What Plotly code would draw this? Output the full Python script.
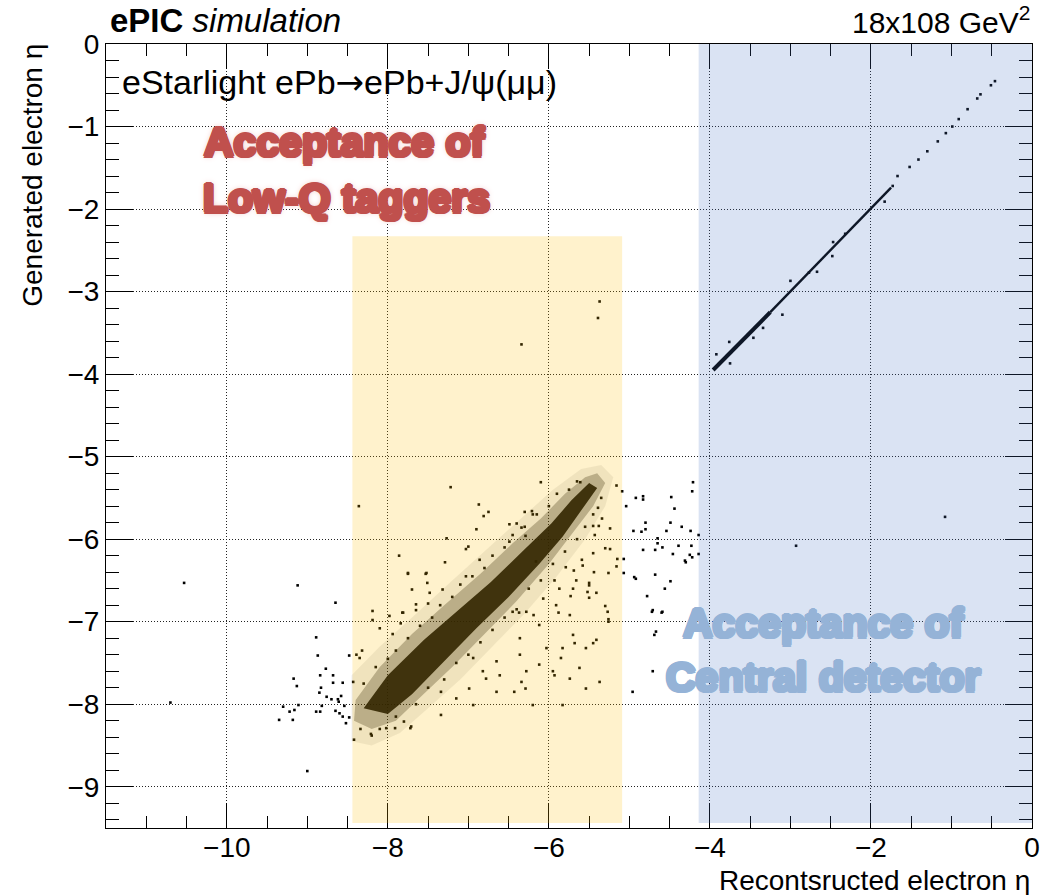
import plotly.graph_objects as go

# ---------------- data ----------------
x_range = [-11.5, 0.0]
y_range = [-9.5, 0.0]
x_tickvals = [-10, -8, -6, -4, -2, 0]
x_ticktext = ["\u221210", "\u22128", "\u22126", "\u22124", "\u22122", "0"]
y_tickvals = [-9, -8, -7, -6, -5, -4, -3, -2, -1, 0]
y_ticktext = ["\u22129", "\u22128", "\u22127", "\u22126", "\u22125", "\u22124", "\u22123", "\u22122", "\u22121", "0"]

# acceptance regions (data coordinates: x0, x1, y0, y1)
lowq_region = [-8.44, -5.09, -9.44, -2.33]
central_region = [-4.14, 0.0, -9.44, 0.0]

# dense band of far-backward electrons (density contours)
band_halo_x = [-8.45, -8.45, -8.1, -7.7, -7.2, -6.75, -6.35, -5.95, -5.6, -5.35,
               -5.2, -5.3, -5.55, -5.9, -6.3, -6.7, -7.1, -7.5, -7.85, -8.2]
band_halo_y = [-8.45, -7.65, -7.3, -6.95, -6.5, -6.1, -5.75, -5.4, -5.15, -5.1,
               -5.25, -5.6, -6.0, -6.45, -6.9, -7.3, -7.7, -8.05, -8.35, -8.5]
band_mid_x = [-8.42, -8.4, -8.1, -7.7, -7.3, -6.85, -6.45, -6.1, -5.8, -5.55, -5.4,
              -5.3, -5.45, -5.7, -6.0, -6.4, -6.8, -7.2, -7.6, -7.9, -8.2]
band_mid_y = [-8.2, -7.95, -7.55, -7.15, -6.8, -6.42, -6.05, -5.75, -5.45, -5.25, -5.2,
              -5.32, -5.6, -5.92, -6.3, -6.75, -7.15, -7.55, -7.92, -8.2, -8.3]
band_core_x = [-8.3, -8.0, -7.55, -7.15, -6.72, -6.32, -5.97, -5.72, -5.5,
               -5.4, -5.6, -5.83, -6.12, -6.5, -6.9, -7.3, -7.7, -8.0]
band_core_y = [-8.05, -7.65, -7.22, -6.88, -6.52, -6.14, -5.81, -5.53, -5.32,
               -5.38, -5.66, -5.97, -6.3, -6.7, -7.08, -7.48, -7.88, -8.12]

# individual scattered events
scatter_x = [
    -9.12, -8.65, -8.89, -8.87, -8.48, -8.77, -9.17, -8.84, -8.68, -9.13, -8.83, -8.68, -8.85, -8.56,
    -8.76, -8.70, -8.62, -8.58, -8.61, -9.30, -9.11, -8.82, -8.54, -9.22, -9.16, -8.89, -8.84, -8.65,
    -8.60, -8.56, -9.35, -9.18, -8.52, -8.48, -9.00, -10.53, -10.70,
    -8.42, -8.34, -8.20, -8.02, -7.91, -7.72, -7.80, -8.32, -8.39, -8.19, -8.10, -7.75, -7.53, -7.51,
    -7.70, -7.82, -7.65, -7.48, -8.36, -7.22, -6.87, -6.81, -6.75, -6.90, -6.30, -6.49, -6.40, -6.34,
    -7.27, -7.00, -7.03, -7.86, -7.29, -6.86, -7.75, -7.52, -7.03, -7.32, -7.65, -7.50, -8.19, -7.81,
    -7.98, -7.94, -7.84, -6.10, -5.61, -6.21, -6.20, -6.29, -6.49, -8.35, -8.43,
    -5.34, -5.45, -5.38, -5.24, -5.39, -5.43, -5.30, -5.24, -5.45, -5.15, -5.16, -5.26, -5.44, -5.59,
    -5.58, -5.79, -5.69, -5.93, -5.66, -5.50, -5.50, -5.41, -5.73, -5.50, -5.30, -5.88, -6.19, -5.26,
    -6.37, -6.16, -5.87, -5.70, -5.52, -5.27, -5.26, -5.41, -5.45, -5.54, -5.68, -5.83, -5.85, -5.62,
    -5.74, -5.54, -5.37, -5.95, -6.12, -6.28, -6.34, -6.43, -6.61, -6.65, -6.82, -6.78, -6.99, -7.15,
    -6.94, -7.34, -7.34, -7.71, -8.21, -6.20, -5.83, -5.93, -6.29, -6.36, -6.12, -6.28, -6.45, -6.07,
    -5.91, -5.74, -5.70, -6.03, -6.36, -6.65, -6.94,
    -5.09, -5.04, -4.92, -4.83, -4.83, -4.48, -4.44, -4.21, -4.22, -4.80, -4.49, -4.35, -4.95, -4.85,
    -4.80, -4.54, -4.24, -4.65, -4.65, -4.59, -4.68, -4.83, -4.39, -4.23, -4.25, -4.22, -4.46, -4.31,
    -4.30, -5.07, -5.07, -4.94, -4.92, -4.68, -4.49, -4.56, -4.78, -4.72, -4.60, -5.16, -4.96, -4.71,
    -4.69, -4.59, -4.71, -4.67, -4.14, -4.14,
    -5.37, -5.39, -6.34, -1.08, -2.93,
    -8.30, -8.15, -8.00, -7.90, -7.75, -7.60, -7.45, -7.35, -7.20, -7.10, -6.95, -6.80, -6.70, -6.55,
    -6.45, -6.30, -6.15, -6.00, -5.90, -5.75, -5.65,
    -8.10, -7.90, -7.65, -7.50, -7.30, -7.15, -7.00, -6.85, -6.70, -6.55, -6.40, -6.25, -6.10, -5.95,
    -5.80, -5.65, -5.55, -5.45, -5.35,
]
scatter_y = [
    -6.56, -6.77, -7.19, -7.41, -7.41, -7.57, -7.69, -7.65, -7.65, -7.78, -7.80, -7.74, -7.86, -7.74,
    -7.91, -7.94, -7.94, -7.90, -7.97, -8.03, -8.01, -8.02, -8.02, -8.09, -8.07, -8.09, -8.09, -8.08,
    -8.11, -8.15, -8.19, -8.19, -8.23, -8.16, -8.81, -6.53, -7.98,
    -8.43, -8.30, -8.38, -8.29, -8.29, -8.29, -8.21, -7.35, -7.40, -6.98, -7.08, -6.42, -6.42, -6.53,
    -6.61, -6.89, -6.86, -6.65, -5.60, -5.37, -5.58, -5.72, -5.67, -5.88, -5.67, -5.82, -5.81, -5.86,
    -5.99, -6.09, -6.12, -6.20, -6.28, -6.25, -6.41, -6.41, -6.45, -6.61, -6.79, -6.78, -6.87, -6.89,
    -6.93, -7.15, -7.02, -5.31, -5.31, -5.66, -5.70, -5.96, -6.03, -7.44, -7.73,
    -5.75, -5.84, -5.84, -5.87, -5.62, -5.95, -6.11, -6.12, -6.17, -6.24, -6.33, -6.41, -6.40, -6.25,
    -6.32, -6.34, -6.38, -6.50, -6.50, -6.53, -6.56, -6.65, -6.69, -6.71, -6.81, -6.89, -6.92, -6.97,
    -6.89, -6.27, -6.60, -6.60, -6.64, -6.88, -7.00, -7.22, -7.26, -7.32, -7.26, -7.32, -7.44, -7.56,
    -7.69, -7.81, -7.73, -7.60, -7.52, -7.60, -7.73, -7.85, -7.65, -7.85, -7.60, -7.69, -7.81, -7.93,
    -8.01, -7.85, -8.13, -8.27, -8.36, -8.01, -8.01, -7.65, -7.81, -7.20, -7.04, -6.88, -6.88, -6.72,
    -6.80, -6.92, -7.16, -7.32, -7.40, -7.48, -7.44,
    -5.42, -5.60, -5.50, -5.48, -5.52, -5.49, -5.63, -5.31, -5.42, -5.80, -5.80, -5.85, -5.90, -5.91,
    -5.88, -5.90, -5.90, -5.99, -6.05, -6.10, -6.13, -6.13, -6.08, -6.08, -6.19, -6.22, -6.18, -6.26,
    -6.28, -6.24, -6.41, -6.46, -6.48, -6.43, -6.51, -6.60, -6.69, -6.88, -6.89, -5.35, -7.85, -7.60,
    -7.16, -6.88, -6.86, -7.12, -5.95, -6.18,
    -3.12, -3.32, -3.64, -5.73, -6.08,
    -7.75, -7.55, -7.45, -7.35, -7.20, -7.05, -6.95, -6.80, -6.70, -6.55, -6.45, -6.35, -6.20, -6.10,
    -5.95, -5.85, -5.70, -5.60, -5.45, -5.40, -5.30,
    -8.30, -8.15, -8.00, -7.80, -7.70, -7.50, -7.40, -7.25, -7.10, -6.95, -6.85, -6.60, -6.50, -6.30,
    -6.15, -6.00, -5.85, -5.70, -5.50,
]

# central-detector electrons: reconstructed == generated (dense diagonal)
diag_thick_x = [-3.96, -3.25]
diag_thick_y = [-3.95, -3.25]
diag_thin_x = [-3.25, -2.0, -1.75]
diag_thin_y = [-3.25, -1.99, -1.74]
diag_dots_x = [-3.92, -3.75, -3.76, -3.46, -3.34, -3.10, -3.00, -2.77, -2.67, -2.48, -2.47, -2.32, -1.83,
               -1.73, -1.67, -1.52, -1.41, -1.30, -1.17, -1.07, -0.99, -0.91, -0.80, -0.68, -0.64, -0.51, -0.46]
diag_dots_y = [-3.76, -3.87, -3.61, -3.56, -3.44, -3.28, -2.87, -2.77, -2.76, -2.57, -2.40, -2.30, -1.91,
               -1.72, -1.60, -1.49, -1.40, -1.30, -1.18, -1.08, -1.00, -0.91, -0.79, -0.66, -0.61, -0.50, -0.45]

# ---------------- figure ----------------
fig = go.Figure()

for px_, py_, alpha in [(band_halo_x, band_halo_y, 0.07),
                        (band_mid_x, band_mid_y, 0.28),
                        (band_core_x, band_core_y, 0.9)]:
    fig.add_trace(go.Scatter(x=px_, y=py_, mode="lines", fill="toself",
                             fillcolor=f"rgba(0,0,0,{alpha})", line=dict(width=0),
                             hoverinfo="skip", showlegend=False))

fig.add_trace(go.Scatter(x=scatter_x, y=scatter_y, mode="markers",
                         marker=dict(symbol="square", size=2.6, color="black", line=dict(width=0)),
                         showlegend=False))
fig.add_trace(go.Scatter(x=diag_thick_x, y=diag_thick_y, mode="lines",
                         line=dict(color="black", width=4), showlegend=False))
fig.add_trace(go.Scatter(x=diag_thin_x, y=diag_thin_y, mode="lines",
                         line=dict(color="black", width=2.4), showlegend=False))
fig.add_trace(go.Scatter(x=diag_dots_x, y=diag_dots_y, mode="markers",
                         marker=dict(symbol="square", size=2.6, color="black", line=dict(width=0)),
                         showlegend=False))

# translucent acceptance overlays (drawn above, like the pasted boxes)
for (x0, x1, y0, y1), col in [(lowq_region, "#FFC000"), (central_region, "#4472C4")]:
    fig.add_shape(type="rect", xref="x", yref="y", x0=x0, x1=x1, y0=y0, y1=y1,
                  fillcolor=col, opacity=0.2, line=dict(width=0), layer="above")

FONT = "Liberation Sans, Arial, Helvetica, sans-serif"
axis_common = dict(
    showline=True, linecolor="black", linewidth=1, mirror="allticks",
    ticks="inside", tickcolor="black", tickwidth=1,
    showgrid=True, gridcolor="#222222", gridwidth=1, griddash="1px,2px",
    zeroline=False, tickfont=dict(family=FONT, size=28, color="black"),
)
fig.update_xaxes(range=x_range, tickvals=x_tickvals, ticktext=x_ticktext, ticklen=25,
                 ticklabelstandoff=-6,
                 minor=dict(dtick=0.5, tick0=0, ticks="inside", ticklen=12, tickcolor="black", showgrid=False),
                 **axis_common)
fig.update_yaxes(range=y_range, tickvals=y_tickvals, ticktext=y_ticktext, ticklen=27,
                 minor=dict(dtick=0.2, tick0=0, ticks="inside", ticklen=13, tickcolor="black", showgrid=False),
                 **axis_common)

def shadow(col):
    offs = ["2px 0", "-2px 0", "0 2px", "0 -2px", "1.5px 1.5px", "-1.5px -1.5px",
            "1.5px -1.5px", "-1.5px 1.5px"]
    return ", ".join(f"{o} 0 {col}" for o in offs)

arrow = '<span style="font-family:DejaVu Sans">\u2192</span>'
annos = [
    dict(x=0.002, y=1.0306, xanchor="left", yanchor="middle",
         text="<b>ePIC</b> <i>simulation</i>", font=dict(family=FONT, size=33, color="black")),
    dict(x=1.0, y=1.0306, xanchor="right", yanchor="middle",
         text="18x108 GeV<sup>2</sup>", font=dict(family=FONT, size=30, color="black")),
    dict(x=0.015, y=0.9515, xanchor="left", yanchor="middle",
         text=f"eStarlight ePb{arrow}ePb+J/\u03c8(\u03bc\u03bc)", font=dict(family=FONT, size=34, color="black")),
    dict(x=1.0, y=-0.067, xanchor="right", yanchor="middle",
         text="Recontsructed electron \u03b7", font=dict(family=FONT, size=28, color="black")),
    dict(x=-0.079, y=0.833, xanchor="center", yanchor="middle", textangle=-90,
         text="Generated electron \u03b7", font=dict(family=FONT, size=28, color="black")),
]
for txt, cx, cy in [("Acceptance of", 344, 142), ("Low-Q taggers", 346, 198)]:
    annos.append(dict(x=(cx - 106) / 926, y=(828 - cy) / 784, xanchor="center", yanchor="middle",
                      text=f"<b>{txt}</b>",
                      font=dict(family=FONT, size=41, color="#C0504D",
                                shadow=shadow("#C0504D") + ", 0 0 6px #E8A8A6")))
for txt, cx, cy in [("Acceptance of", 823, 623), ("Central detector", 823, 677)]:
    annos.append(dict(x=(cx - 106) / 926, y=(828 - cy) / 784, xanchor="center", yanchor="middle",
                      text=f"<b>{txt}</b>",
                      font=dict(family=FONT, size=41, color="#95B3D7", shadow=shadow("#95B3D7"))))
for a in annos:
    fig.add_annotation(xref="paper", yref="paper", showarrow=False, **a)

fig.update_layout(width=1058, height=895, margin=dict(l=106, r=26, t=44, b=67, pad=0),
                  paper_bgcolor="white", plot_bgcolor="white", showlegend=False)

fig.write_html("out.html")
